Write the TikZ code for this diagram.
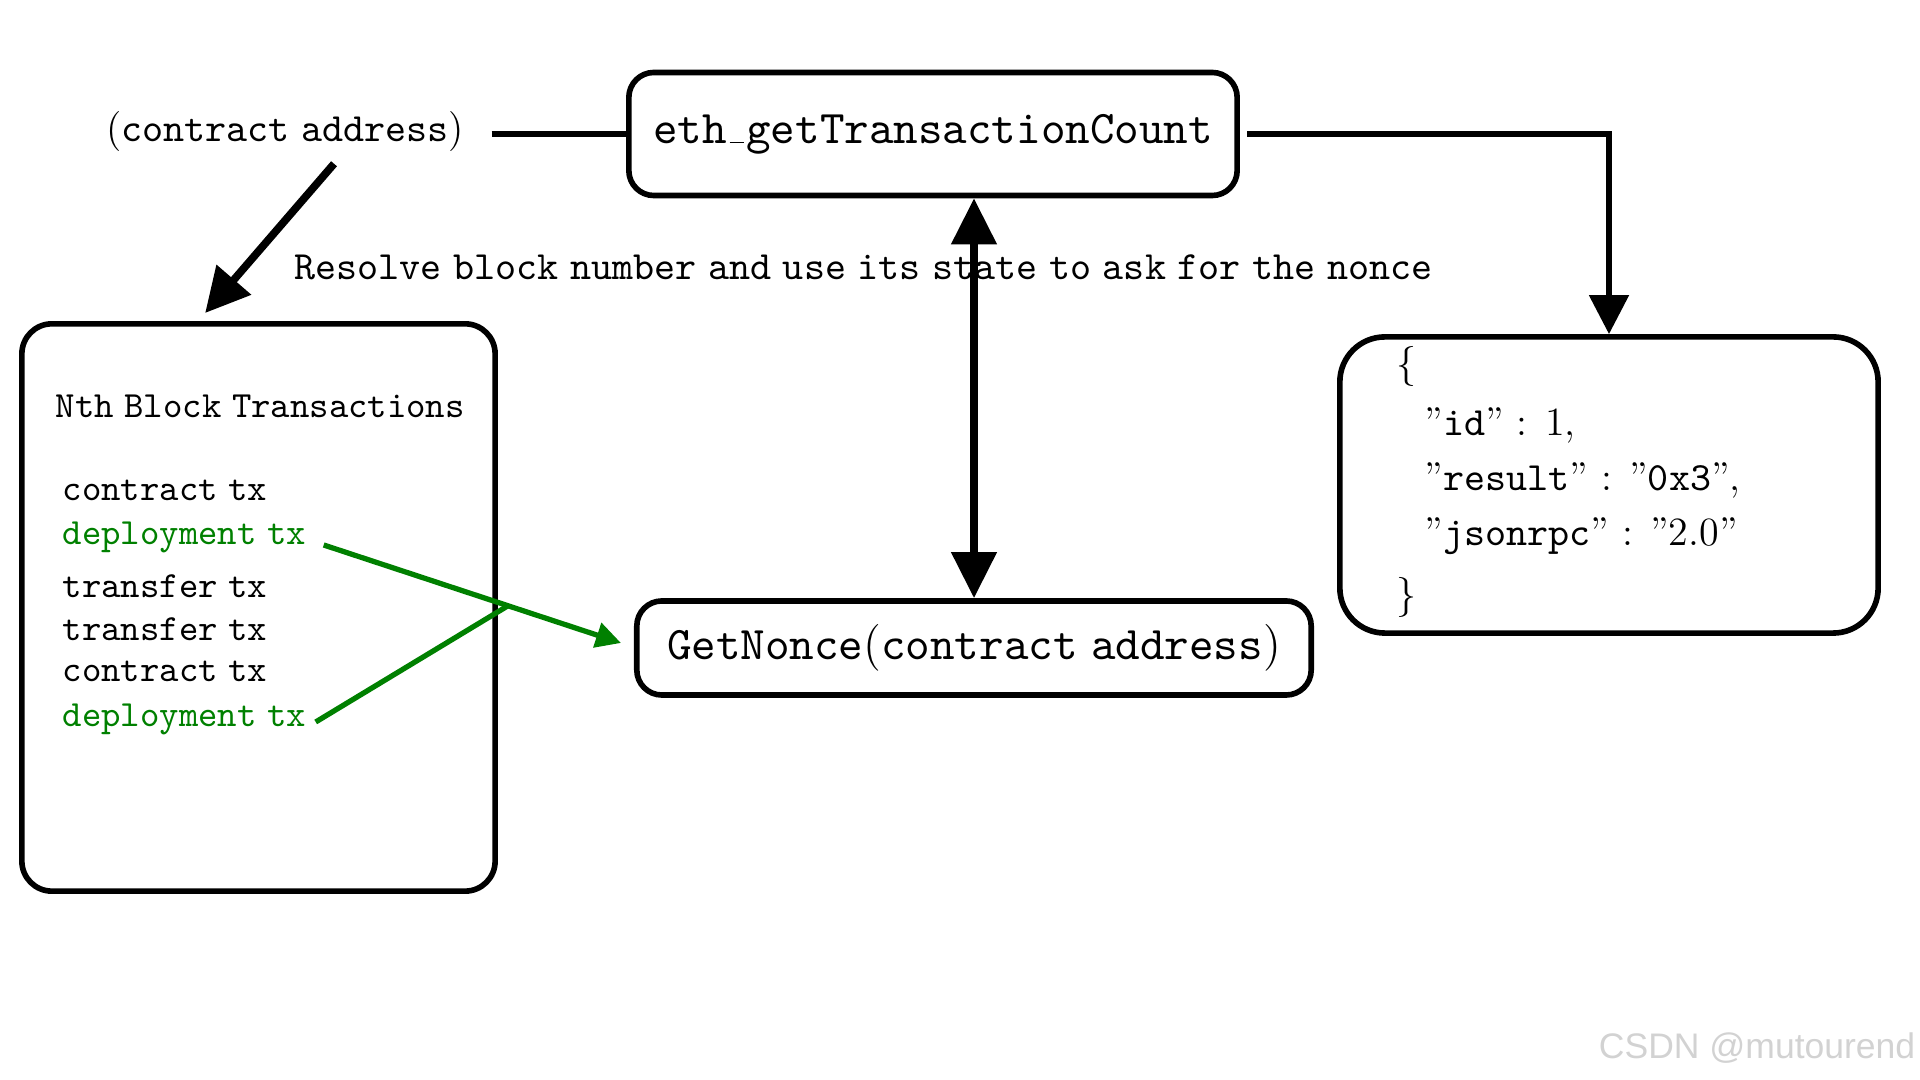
\documentclass[tikz,border=0pt]{standalone}
\usepackage{fontspec}
\setmonofont{lmmono10-regular.otf}[WordSpace=0.55]
\newfontfamily\wmfont{Liberation Sans}
\usetikzlibrary{arrows.meta}

\newcommand\usc{\kern.06em\vbox{\hrule width.3em}\kern.06em}

\begin{document}
\begin{tikzpicture}[x=0.01cm, y=-0.01cm,
        box/.style={draw, line width=1.6pt, rounded corners=0.25cm, inner sep=0pt},
        bigtt/.style={font=\fontsize{13.3}{16}\selectfont\ttfamily},
        smalltt/.style={font=\fontsize{11.4}{14}\selectfont\ttfamily},
        txtt/.style={font=\fontsize{10.5}{13}\selectfont\ttfamily, anchor=base west, inner sep=0pt},
        jsontext/.style={font=\fontsize{11.4}{14}\selectfont, anchor=base west, inner sep=0pt},
        bigarrow/.style={line width=2.2pt, -{Triangle[width=0.44cm,length=0.44cm]}},
        greenline/.style={draw=green!50!black, line width=1.5pt}]

\useasboundingbox (0,0) rectangle (1920,1080);

% request and call boxes
\node[box, bigtt, minimum width=6.08cm, minimum height=1.23cm] (count) at (933,134) {eth\usc getTransactionCount};
\node[box, bigtt, minimum width=6.74cm, minimum height=0.94cm] (nonce) at (974,648) {GetNonce\textrm{(}contract address\textrm{)}};
\node[smalltt, inner xsep=0.27cm, inner ysep=0.11cm] (addr) at (285,132) {\textrm{(}contract address\textrm{)}};
\node[smalltt, anchor=west, inner sep=0pt] (resolve) at (294,267) {Resolve block number and use its state to ask for the nonce};

% block with its transactions
\node[box, rounded corners=0.3cm, minimum width=4.73cm, minimum height=5.67cm] (blocks) at (258.5,607.5) {};
\node[txtt] (title) at (55,418) {Nth Block Transactions};
\foreach \n/\y/\c/\t in {1/501/black/contract tx, 2/545/green!50!black/deployment tx,
        3/598/black/transfer tx, 4/641/black/transfer tx, 5/682/black/contract tx,
        6/727/green!50!black/deployment tx}
    \node[txtt, text=\c] (tx\n) at (62,\y) {\t};

% response
\node[box, rounded corners=0.45cm, minimum width=5.38cm, minimum height=2.96cm] (json) at (1609,485) {};
\node[jsontext] (lbrace) at (1396,377) {\{};
\node[jsontext] (jid) at (1424,436) {''\texttt{id}'' : 1,};
\node[jsontext] (jresult) at (1424,491) {''\texttt{result}'' : ''\texttt{0x3}'',};
\node[jsontext] (jrpc) at (1424,546) {''\texttt{jsonrpc}'' : ''2.0''};
\node[jsontext] (rbrace) at (1396,608) {\}};

% connectors
\draw[line width=1.7pt] (addr.east |- count.west) -- (count.west);
\draw[bigarrow] ([xshift=0.49cm]addr.south) -- ([xshift=1.86cm,yshift=0.08cm]blocks.north west);
\draw[line width=1.5pt, shorten <=0.07cm, -{Triangle[width=0.39cm,length=0.39cm]}] (count.east) -| (json.north);
\draw[line width=2.2pt, {Triangle[width=0.44cm,length=0.46cm]}-{Triangle[width=0.44cm,length=0.46cm]}]
    (nonce.north |- count.south) -- (nonce.north);
\draw[greenline, -{Triangle[width=0.25cm,length=0.25cm]}] ([xshift=0.17cm]tx2.base east)
    -- coordinate[pos=0.62] (merge) ([xshift=-0.13cm,yshift=0.05cm]nonce.west);
\draw[greenline] ([xshift=0.09cm,yshift=0.05cm]tx6.base east) -- (merge);

\node[font=\wmfont\fontsize{10.1}{12}\selectfont, text=gray!35, anchor=east, inner sep=0pt] (wm) at (1916,1048) {CSDN @mutourend};
\end{tikzpicture}
\end{document}
